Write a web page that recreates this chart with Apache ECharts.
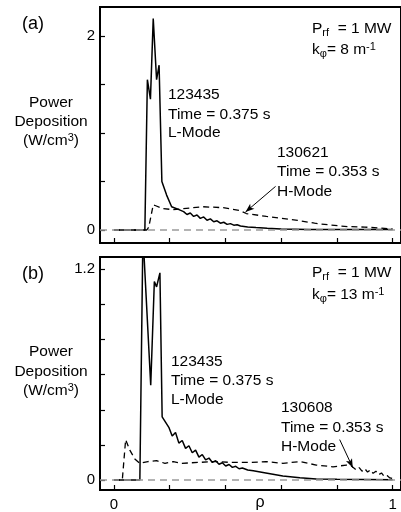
<!DOCTYPE html>
<html>
<head>
<meta charset="utf-8">
<script src="https://cdn.jsdelivr.net/npm/echarts@6/dist/echarts.min.js"></script>
<style>
html,body{margin:0;padding:0;background:#fff;}
#c{width:401px;height:512px;}
</style>
</head>
<body>
<div id="c"></div>
<script>
// ---------- data ----------
// Panel (a): shot 123435, L-mode (solid)
const rhoA_L = [0, 0.111, 0.12, 0.131, 0.141, 0.153, 0.162, 0.172, 0.189, 0.207, 0.225, 0.25, 0.262, 0.274, 0.286, 0.298, 0.31, 0.322, 0.334, 0.346, 0.358, 0.37, 0.382, 0.394, 0.406, 0.418, 0.43, 0.442, 0.454, 0.48, 0.51, 0.55, 0.6, 0.7, 0.8, 0.9, 1.0];
const valA_L = [0, 0, 1.55, 1.35, 2.18, 1.55, 1.70, 0.50, 0.36, 0.24, 0.22, 0.19, 0.16, 0.175, 0.14, 0.155, 0.12, 0.135, 0.10, 0.115, 0.085, 0.095, 0.07, 0.08, 0.058, 0.066, 0.05, 0.055, 0.042, 0.032, 0.025, 0.017, 0.01, 0.006, 0.005, 0.004, 0.004];
// Panel (a): shot 130621, H-mode (dashed)
const rhoA_H = [0, 0.118, 0.125, 0.141, 0.15, 0.177, 0.213, 0.249, 0.32, 0.392, 0.452, 0.475, 0.547, 0.602, 0.659, 0.72, 0.78, 0.839, 0.9, 0.971, 1.0];
const valA_H = [0, 0, 0.03, 0.26, 0.25, 0.22, 0.21, 0.22, 0.24, 0.23, 0.20, 0.17, 0.14, 0.12, 0.10, 0.07, 0.05, 0.035, 0.03, 0.017, 0.01];
// Panel (b): shot 123435, L-mode (solid)
const rhoB_L = [0, 0.093, 0.104, 0.132, 0.145, 0.153, 0.165, 0.173, 0.185, 0.197, 0.209, 0.221, 0.233, 0.245, 0.257, 0.269, 0.281, 0.293, 0.305, 0.317, 0.329, 0.341, 0.353, 0.365, 0.377, 0.389, 0.401, 0.413, 0.425, 0.437, 0.449, 0.461, 0.48, 0.5, 0.545, 0.606, 0.667, 0.726, 0.8, 0.9, 1.0];
const valB_L = [0, 0, 1.4, 0.54, 1.13, 1.10, 1.18, 0.36, 0.33, 0.30, 0.25, 0.27, 0.21, 0.225, 0.18, 0.195, 0.155, 0.17, 0.13, 0.145, 0.115, 0.125, 0.10, 0.11, 0.09, 0.098, 0.08, 0.088, 0.072, 0.078, 0.064, 0.068, 0.057, 0.052, 0.04, 0.023, 0.013, 0.006, 0.004, 0.003, 0.002];
// Panel (b): shot 130608, H-mode (dashed)
const rhoB_H = [0, 0.03, 0.042, 0.057, 0.075, 0.093, 0.122, 0.153, 0.183, 0.213, 0.243, 0.302, 0.362, 0.421, 0.493, 0.545, 0.606, 0.667, 0.726, 0.786, 0.834, 0.852, 0.87, 0.88, 0.89, 0.9, 0.91, 0.92, 0.93, 0.94, 0.95, 0.96, 0.97, 0.98, 0.99, 1.0];
const valB_H = [0, 0, 0.23, 0.17, 0.12, 0.095, 0.105, 0.11, 0.095, 0.105, 0.095, 0.10, 0.105, 0.10, 0.10, 0.105, 0.095, 0.105, 0.085, 0.075, 0.085, 0.08, 0.057, 0.07, 0.05, 0.065, 0.045, 0.058, 0.038, 0.05, 0.03, 0.04, 0.02, 0.025, 0.012, 0.008];

// ticks and labels
const xTicks = [0, 0.2, 0.4, 0.6, 0.8, 1];
const xLabels = [0, 1];
const yTicksA = [0, 0.5, 1, 1.5, 2];
const yLabelsA = [0, 2];
const yTicksB = [0, 0.2, 0.4, 0.6, 0.8, 1.0, 1.2];
const yLabelsB = [0, 1.2];

// annotation arrows (data coordinates: [rho, value])
const arrowA = [[0.58, 0.45], [0.472, 0.185]];
const arrowB = [[0.81, 0.23], [0.857, 0.07]];

// ---------- chart ----------
const FONT = '"Liberation Sans", Arial, sans-serif';
const zip = (xs, ys) => xs.map((x, i) => [x, ys[i]]);

const chart = echarts.init(document.getElementById('c'), null, {renderer: 'canvas'});

const rich = {
  n: {fontSize: 15.5, lineHeight: 18, fontFamily: FONT, fill: '#000'},
  sub: {fontSize: 11, lineHeight: 10, verticalAlign: 'bottom', fontFamily: FONT, fill: '#000'},
  sup: {fontSize: 11, lineHeight: 10, verticalAlign: 'top', fontFamily: FONT, fill: '#000'}
};
function txt(x, y, text, align, size) {
  return {
    type: 'text', x: x, y: y, silent: true,
    style: {
      text: text, rich: rich, align: align || 'left', verticalAlign: 'middle',
      fontSize: size || 15.5, fontFamily: FONT, fill: '#000'
    }
  };
}

function xAxisCfg(grid, withLabels) {
  return {
    gridIndex: grid, type: 'value', min: -0.05, max: 1.03,
    axisLine: {show: true, onZero: false, lineStyle: {color: '#000', width: 2}},
    axisTick: {show: true, inside: true, length: 5, customValues: xTicks, lineStyle: {color: '#000', width: 1.2}},
    axisLabel: withLabels ? {show: true, customValues: xLabels, color: '#000', fontSize: 15, fontFamily: FONT, margin: 7} : {show: false},
    splitLine: {show: false}
  };
}
function yAxisCfg(grid, min, max, ticks, labels) {
  return {
    gridIndex: grid, type: 'value', min: min, max: max,
    axisLine: {show: true, onZero: false, lineStyle: {color: '#000', width: 2}},
    axisTick: {show: true, inside: true, length: 5, customValues: ticks, lineStyle: {color: '#000', width: 1.2}},
    axisLabel: {show: true, customValues: labels, color: '#000', fontSize: 15, fontFamily: FONT, margin: 5},
    splitLine: {show: false}
  };
}
const solid = {color: '#000', width: 1.5, type: 'solid'};
const dashed = {color: '#000', width: 1.3, type: [6, 4]};
const zeroLine = {
  silent: true, symbol: 'none', label: {show: false}, animation: false,
  lineStyle: {color: '#9a9a9a', width: 1.5, type: [7, 5]},
  data: [{yAxis: 0}]
};
function arrowLine(a) {
  return {
    silent: true, symbol: ['none', 'arrow'], symbolSize: [5, 9], label: {show: false}, animation: false,
    lineStyle: {color: '#000', width: 1, type: 'solid'},
    data: [[{coord: a[0]}, {coord: a[1]}]]
  };
}

const option = {
  animation: false,
  backgroundColor: '#fff',
  grid: [
    {left: 100, top: 7, width: 301, height: 236, show: true, borderColor: '#000', borderWidth: 2, outerBoundsMode: 'none', containLabel: false},
    {left: 100, top: 257, width: 301, height: 233, show: true, borderColor: '#000', borderWidth: 2, outerBoundsMode: 'none', containLabel: false}
  ],
  xAxis: [xAxisCfg(0, false), xAxisCfg(1, true)],
  yAxis: [
    yAxisCfg(0, -0.134, 2.3, yTicksA, yLabelsA),
    yAxisCfg(1, -0.057, 1.27, yTicksB, yLabelsB)
  ],
  series: [
    {type: 'line', xAxisIndex: 0, yAxisIndex: 0, data: zip(rhoA_L, valA_L), showSymbol: false, lineStyle: solid, markLine: zeroLine, z: 3},
    {type: 'line', xAxisIndex: 0, yAxisIndex: 0, data: zip(rhoA_H, valA_H), showSymbol: false, lineStyle: dashed, markLine: arrowLine(arrowA), z: 3},
    {type: 'line', xAxisIndex: 1, yAxisIndex: 1, data: zip(rhoB_L, valB_L), showSymbol: false, lineStyle: solid, markLine: zeroLine, z: 3},
    {type: 'line', xAxisIndex: 1, yAxisIndex: 1, data: zip(rhoB_H, valB_H), showSymbol: false, lineStyle: dashed, markLine: arrowLine(arrowB), z: 3}
  ],
  graphic: [
    txt(22, 24, '(a)', 'left', 18),
    txt(51, 103, '{n|Power}', 'center'),
    txt(51, 122, '{n|Deposition}', 'center'),
    txt(51, 141, '{n|(W/cm}{sup|3}{n|)}', 'center'),
    txt(312, 29, '{n|P}{sub|rf}{n|  = 1 MW}'),
    txt(312, 50, '{n|k}{sub|φ}{n|= 8 m}{sup|-1}'),
    txt(168, 95, '{n|123435}'),
    txt(168, 115, '{n|Time = 0.375 s}'),
    txt(168, 133, '{n|L-Mode}'),
    txt(277, 153, '{n|130621}'),
    txt(277, 172, '{n|Time = 0.353 s}'),
    txt(277, 192, '{n|H-Mode}'),

    txt(22, 274, '(b)', 'left', 18),
    txt(51, 352, '{n|Power}', 'center'),
    txt(51, 372, '{n|Deposition}', 'center'),
    txt(51, 391, '{n|(W/cm}{sup|3}{n|)}', 'center'),
    txt(312, 273, '{n|P}{sub|rf}{n|  = 1 MW}'),
    txt(312, 295, '{n|k}{sub|φ}{n|= 13 m}{sup|-1}'),
    txt(171, 362, '{n|123435}'),
    txt(171, 381, '{n|Time = 0.375 s}'),
    txt(171, 400, '{n|L-Mode}'),
    txt(281, 408, '{n|130608}'),
    txt(281, 428, '{n|Time = 0.353 s}'),
    txt(281, 447, '{n|H-Mode}'),
    txt(260, 503, 'ρ', 'center', 16)
  ]
};
chart.setOption(option);
</script>
</body>
</html>
